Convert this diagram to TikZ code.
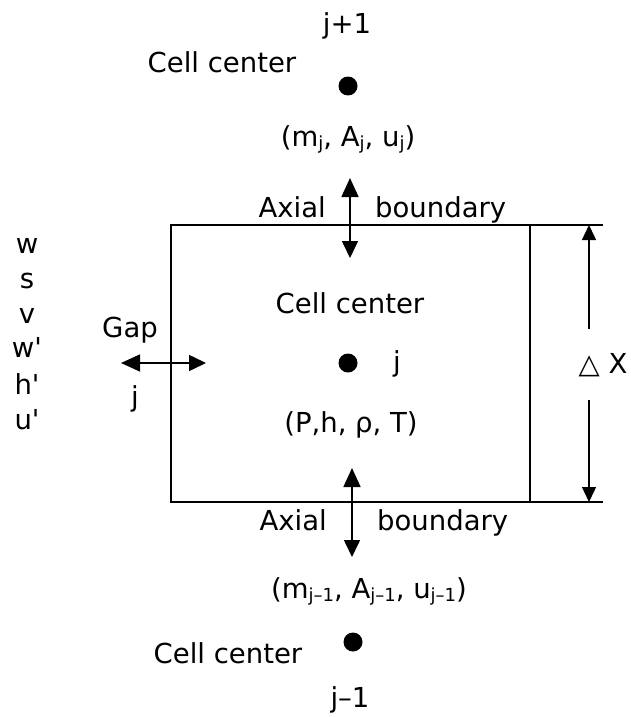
\documentclass[tikz,border=0pt]{standalone}
\usepackage{fontspec}
\setmainfont{DejaVu Sans}[Ligatures=TeXOff]
\usetikzlibrary{arrows.meta}
\newcommand{\sbj}[1]{\raisebox{-3pt}{\fontsize{18}{18}\selectfont #1}}
\begin{document}
\begin{tikzpicture}[x=1pt,y=-1pt,
  lbl/.style={inner sep=0pt, anchor=base, font=\fontsize{27.5}{30}\selectfont},
  dot/.style={circle, fill=black, inner sep=0pt, minimum size=19pt},
  dbl/.style={line width=1.6pt, {Triangle[length=19pt,width=17pt]}-{Triangle[length=17pt,width=16pt]}},
  sgl/.style={line width=1.4pt, -{Triangle[length=15pt,width=14pt]}},
  box/.style={line width=1.1pt},
]
\useasboundingbox (0,0) rectangle (630,717);

% top cell
\node[lbl] (jp1) at (347,34) {j+1};
\node[lbl] (cctop) at (222,72) {Cell center};
\node[dot] (dtop) at (348,86) {};
\node[lbl] (vtop) at (348,146) {(m\sbj{j}, A\sbj{j}, u\sbj{j})};

% axial top
\coordinate (tau) at (350,178);
\coordinate (tad) at (350,258);
\draw[dbl] (tau) -- (tad);
\node[lbl, anchor=base east] (axt) at (326,217) {Axial};
\node[lbl, anchor=base west] (bdt) at (375,217) {boundary};

% box
\coordinate (r1) at (603,225);
\coordinate (r2) at (171,225);
\coordinate (r3) at (171,502);
\coordinate (r4) at (603,502);
\coordinate (r5) at (530,225);
\coordinate (r6) at (530,502);
\draw[box] (r1) -- (r2) -- (r3) -- (r4);
\draw[box] (r5) -- (r6);

% middle cell
\node[lbl] (ccmid) at (350,313) {Cell center};
\node[dot] (dmid) at (348,363) {};
\node[lbl] (jmid) at (397,371) {j};
\node[lbl] (vmid) at (351,432) {(P,h, ρ, T)};

% gap
\node[lbl] (gap) at (130,337) {Gap};
\coordinate (gl) at (121,363);
\coordinate (gr) at (206,363);
\draw[dbl] (gl) -- (gr);
\node[lbl] (jgap) at (135,406) {j};

% left list
\node[lbl] (lw) at (27,253) {w};
\node[lbl] (ls) at (27,288) {s};
\node[lbl] (lv) at (27,323) {v};
\node[lbl] (lwp) at (27,357) {w'};
\node[lbl] (lhp) at (27,394) {h'};
\node[lbl] (lup) at (27,429) {u'};

% delta x
\node[lbl] (dx) at (603,373) {△ X};
\coordinate (dxt) at (589,225);
\coordinate (dxtb) at (589,329);
\coordinate (dxb) at (589,502);
\coordinate (dxbt) at (589,400);
\draw[sgl] (dxtb) -- (dxt);
\draw[sgl] (dxbt) -- (dxb);

% axial bottom
\coordinate (bau) at (352,468);
\coordinate (bad) at (352,557);
\draw[dbl] (bau) -- (bad);
\node[lbl, anchor=base east] (axb) at (327,530) {Axial};
\node[lbl, anchor=base west] (bdb) at (377,530) {boundary};

% bottom cell
\node[lbl] (vbot) at (369,598) {(m\sbj{j–1}, A\sbj{j–1}, u\sbj{j–1})};
\node[dot] (dbot) at (353,642) {};
\node[lbl] (ccbot) at (228,663) {Cell center};
\node[lbl] (jm1) at (350,707) {j–1};
\end{tikzpicture}
\end{document}
